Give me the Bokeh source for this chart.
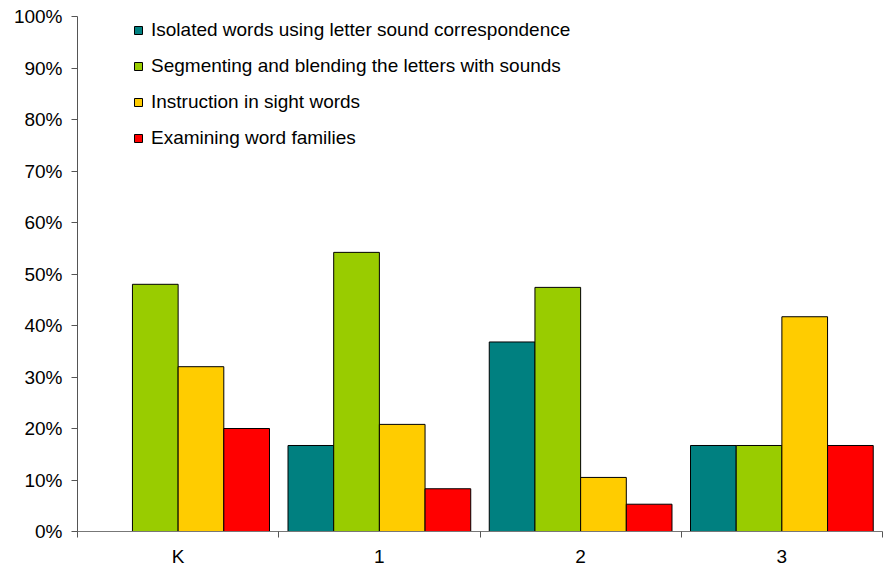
from bokeh.plotting import figure
from bokeh.models import FixedTicker, ColumnDataSource, Legend, LegendItem, Range1d
from bokeh.embed import file_html
from bokeh.resources import INLINE

grades = ["K", "1", "2", "3"]
series_names = [
    "Isolated words using letter sound correspondence",
    "Segmenting and blending the letters with sounds",
    "Instruction in sight words",
    "Examining word families",
]
isolated = [0.0, 16.7, 36.8, 16.7]
segmenting = [48.0, 54.2, 47.4, 16.7]
sight = [32.0, 20.8, 10.5, 41.7]
families = [20.0, 8.3, 5.3, 16.7]
colors = ["#008080", "#99CC00", "#FFCC00", "#FF0000"]
y_ticks = list(range(0, 101, 10))

FONT = "Liberation Sans"
FS = "19px"

p = figure(width=883, height=569, output_backend="svg", toolbar_location=None,
           x_range=Range1d(0, 4), y_range=Range1d(0, 100),
           min_border_left=77, min_border_right=1, min_border_top=16, min_border_bottom=38)
p.outline_line_color = None
p.xgrid.visible = False
p.ygrid.visible = False

centers = [i + 0.5 for i in range(len(grades))]
bar_w = 0.227
offsets = [-1.5 * bar_w, -0.5 * bar_w, 0.5 * bar_w, 1.5 * bar_w]
renderers = []
for vals, off, col in zip([isolated, segmenting, sight, families], offsets, colors):
    src = ColumnDataSource(dict(x=[c + off for c in centers], top=vals))
    r = p.vbar(x="x", top="top", bottom=0, width=bar_w, source=src,
               fill_color=col, line_color="black", line_width=1)
    renderers.append(r)

legend = Legend(items=[LegendItem(label=n, renderers=[r]) for n, r in zip(series_names, renderers)],
                location=(56, 381), orientation="vertical")
legend.label_text_font = FONT
legend.label_text_font_size = FS
legend.label_text_color = "black"
legend.label_height = 24
legend.glyph_width = 10
legend.glyph_height = 10
legend.spacing = 12
legend.label_standoff = 8
legend.border_line_color = None
legend.background_fill_alpha = 0
legend.padding = 0
legend.margin = 0
p.add_layout(legend, "center")

# y axis
p.yaxis.ticker = FixedTicker(ticks=y_ticks, minor_ticks=[])
p.yaxis.major_label_overrides = {t: f"{t}%" for t in y_ticks}
p.yaxis.major_label_text_font = FONT
p.yaxis.major_label_text_font_size = FS
p.yaxis.major_label_text_color = "black"
p.yaxis.axis_line_color = "#555555"
p.yaxis.major_tick_line_color = "#555555"
p.yaxis.major_tick_out = 6
p.yaxis.major_tick_in = 0
p.yaxis.minor_tick_line_color = None
p.yaxis.major_label_standoff = 9

# x axis
p.xaxis.ticker = FixedTicker(ticks=centers, minor_ticks=[0, 1, 2, 3, 4])
p.xaxis.major_label_overrides = {c: g for c, g in zip(centers, grades)}
p.xaxis.major_label_text_font = FONT
p.xaxis.major_label_text_font_size = FS
p.xaxis.major_label_text_color = "black"
p.xaxis.axis_line_color = "#777777"
p.xaxis.major_tick_line_color = None
p.xaxis.major_tick_out = 0
p.xaxis.minor_tick_line_color = "#555555"
p.xaxis.minor_tick_out = 6
p.xaxis.minor_tick_in = 0
p.xaxis.major_label_standoff = 8

open("out.html", "w").write(file_html(p, INLINE))
